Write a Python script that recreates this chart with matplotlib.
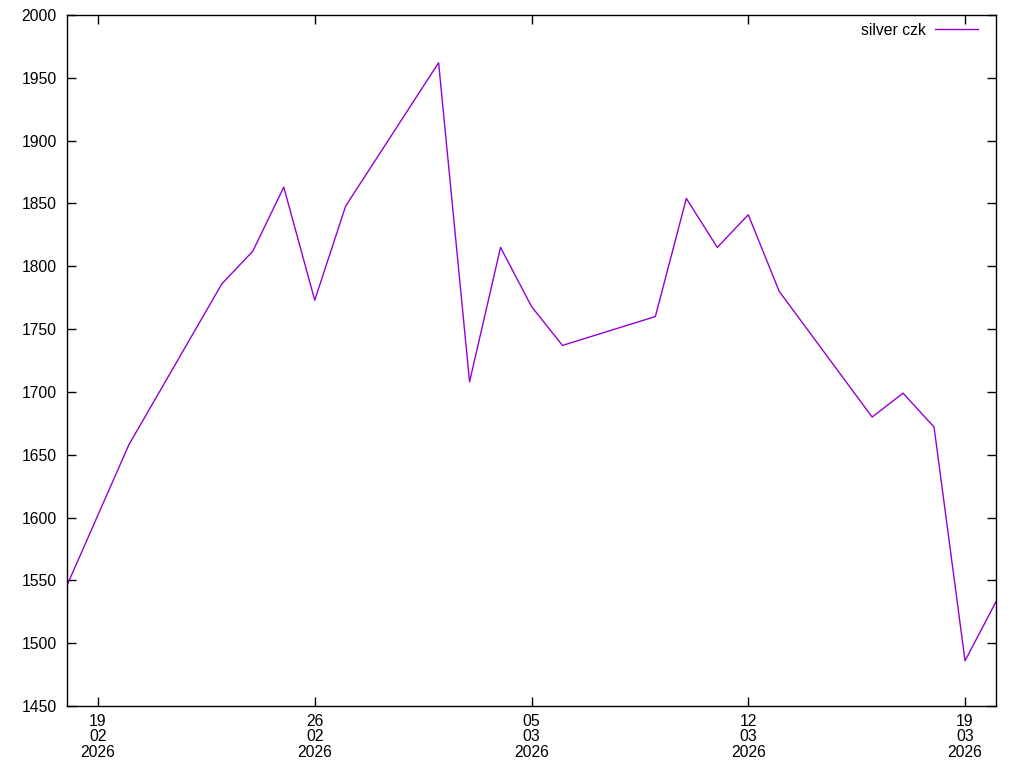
import matplotlib
matplotlib.use("Agg")
import matplotlib.pyplot as plt
import matplotlib.dates as mdates
import datetime as dt

plt.rcParams['font.family'] = ['Liberation Sans', 'DejaVu Sans']

dates = ["2026-02-18", "2026-02-19", "2026-02-20", "2026-02-23", "2026-02-24",
         "2026-02-25", "2026-02-26", "2026-02-27", "2026-03-02", "2026-03-03",
         "2026-03-04", "2026-03-05", "2026-03-06", "2026-03-09", "2026-03-10",
         "2026-03-11", "2026-03-12", "2026-03-13", "2026-03-16", "2026-03-17",
         "2026-03-18", "2026-03-19", "2026-03-20"]
silver_czk = [1546, 1602, 1658, 1786, 1812, 1863, 1773, 1848, 1962, 1708,
              1815, 1768, 1737, 1760, 1854, 1815, 1841, 1780, 1680, 1699,
              1672, 1486, 1533]
tick_dates = ["2026-02-19", "2026-02-26", "2026-03-05", "2026-03-12", "2026-03-19"]
y_ticks = list(range(1450, 2001, 50))

x = [dt.datetime.strptime(d, "%Y-%m-%d") for d in dates]
xt = [dt.datetime.strptime(d, "%Y-%m-%d") for d in tick_dates]

FS = 11.3
fig = plt.figure(figsize=(10.24, 7.68), dpi=100)
ax = fig.add_axes([67/1024, (768-706)/768, (996-67)/1024, (706-15)/768])
ax.plot(x, silver_czk, color='#9400D3', lw=1, label='silver czk')
ax.set_xlim(x[0], x[-1])
ax.set_ylim(1450, 2000)
ax.set_yticks(y_ticks)
ax.set_xticks(xt)
ax.xaxis.set_major_formatter(mdates.DateFormatter('%d\n%m\n%Y'))
ax.tick_params(direction='in', length=6.5, width=1, top=True, right=True,
               labelsize=FS, colors='black')
ax.tick_params(axis='x', pad=5.5)
ax.tick_params(axis='y', pad=7.2)
for lab in ax.get_xticklabels():
    lab.set_linespacing(1.04)
for s in ax.spines.values():
    s.set_linewidth(1)
leg = ax.legend(loc='upper right', frameon=False, markerfirst=False,
                handlelength=2.75, handletextpad=0.58, fontsize=FS,
                borderaxespad=0, borderpad=0,
                bbox_to_anchor=(0.9806, 0.989))
fig.savefig('out.png', dpi=100)
